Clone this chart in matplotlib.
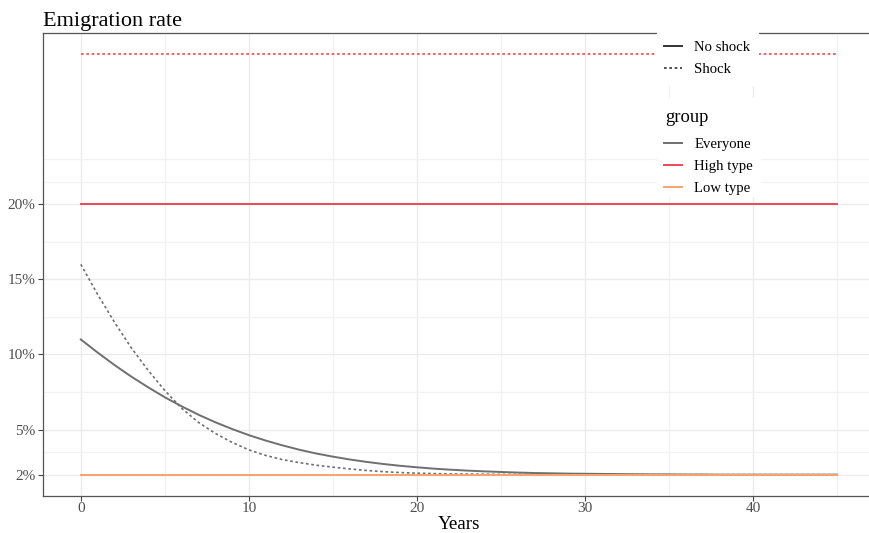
import numpy as np
import matplotlib
matplotlib.use('Agg')
import matplotlib.pyplot as plt
from matplotlib.lines import Line2D
from matplotlib.patches import Rectangle
from matplotlib.ticker import FuncFormatter

plt.rcParams['font.family'] = ['Liberation Serif', 'DejaVu Serif']

# taux d'emigration (%) par annee
years = np.arange(0, 46)
everyone_no_shock = [11.00, 10.13, 9.30, 8.53, 7.82, 7.15, 6.55, 5.99, 5.49, 5.04,
                     4.63, 4.27, 3.95, 3.66, 3.41, 3.20, 3.01, 2.85, 2.71, 2.59,
                     2.49, 2.40, 2.33, 2.27, 2.22, 2.18, 2.14, 2.11, 2.09, 2.07,
                     2.06, 2.05, 2.04, 2.03, 2.02, 2.02, 2.01, 2.01, 2.00, 2.00,
                     2.00, 2.00, 2.00, 2.00, 2.00, 2.00]
everyone_shock = [16.00, 14.00, 12.15, 10.45, 8.95, 7.60, 6.42, 5.48, 4.75, 4.15,
                  3.65, 3.28, 3.00, 2.80, 2.63, 2.50, 2.38, 2.28, 2.20, 2.14,
                  2.10, 2.07, 2.05, 2.04, 2.03, 2.02, 2.015, 2.01, 2.01, 2.005,
                  2.00, 2.00, 2.00, 2.00, 2.00, 2.00, 2.00, 2.00, 2.00, 2.00,
                  2.00, 2.00, 2.00, 2.00, 2.00, 2.00]
high_no_shock = 20.0
high_shock = 30.0
low_no_shock = 2.0
low_shock = 2.0

groups = ['Everyone', 'High type', 'Low type']
colors = {'Everyone': '#6f6f6f', 'High type': '#ee4658', 'Low type': '#f9a36b'}
shocks = ['No shock', 'Shock']
dotted = (0, (1.6, 1.6))

y_major = [2, 5, 10, 15, 20]
y_minor = [3.5, 7.5, 12.5, 17.5, 21.5, 23]
x_major = [0, 10, 20, 30, 40]
x_minor = [5, 15, 25, 35, 45]

W, H = 869, 533
fig = plt.figure(figsize=(W / 100, H / 100), dpi=100)
# le panneau deborde un peu a droite
left, right, top, bottom = 43, 875, 33, 495.7
ax = fig.add_axes([left / W, 1 - bottom / H, (right - left) / W, (bottom - top) / H])

n = len(years)
ax.plot(years, everyone_no_shock, color=colors['Everyone'], lw=1.4)
ax.plot(years, everyone_shock, color=colors['Everyone'], lw=1.2, ls=dotted)
ax.plot(years, np.full(n, high_no_shock), color=colors['High type'], lw=1.4)
ax.plot(years, np.full(n, high_shock), color=colors['High type'], lw=1.2, ls=dotted)
ax.plot(years, np.full(n, low_no_shock), color=colors['Low type'], lw=1.4)
ax.plot(years, np.full(n, low_shock), color=colors['Low type'], lw=1.2, ls=dotted)

ax.set_xlim(-2.25, 47.25)
ax.set_ylim(0.6, 31.4)
ax.set_xticks(x_major)
ax.set_xticks(x_minor, minor=True)
ax.set_yticks(y_major)
ax.set_yticks(y_minor, minor=True)
ax.yaxis.set_major_formatter(FuncFormatter(lambda v, p: '%d%%' % v))
ax.grid(True, which='major', color='#ebebeb', lw=1.0)
ax.grid(True, which='minor', color='#f2f2f2', lw=0.9)
ax.set_axisbelow(True)
ax.tick_params(which='major', length=3.3, width=0.8, color='#444444',
               labelsize=11, labelcolor='#4d4d4d', pad=2)
ax.tick_params(axis='x', which='major', pad=1.2)
ax.tick_params(which='minor', length=0)
for s in ax.spines.values():
    s.set_color('#555555')
    s.set_linewidth(0.9)

ax.set_xlabel('Years', fontsize=13.7, labelpad=1)
ax.set_title('Emigration rate', loc='left', fontsize=16, pad=5)

# fonds blancs des deux legendes
fig.add_artist(Rectangle((657 / W, 1 - 86 / H), 102 / W, 60 / H,
                         transform=fig.transFigure, facecolor='white',
                         edgecolor='none', zorder=1))
fig.add_artist(Rectangle((657 / W, 1 - 197 / H), 104 / W, 99 / H,
                         transform=fig.transFigure, facecolor='white',
                         edgecolor='none', zorder=1))

h1 = [Line2D([], [], color='#333333', lw=1.4),
      Line2D([], [], color='#333333', lw=1.2, ls=dotted)]
fig.legend(h1, shocks, loc='upper left', bbox_to_anchor=(664 / W, 1 - 41 / H),
           frameon=False, fontsize=10.6, borderpad=0, borderaxespad=0,
           handlelength=1.25, handletextpad=0.8, labelspacing=0.57)

fig.text(665 / W, 1 - 118 / H, 'group', fontsize=13.3, va='center', ha='left',
         zorder=3)
h2 = [Line2D([], [], color=colors[g], lw=1.4) for g in groups]
fig.legend(h2, groups, loc='upper left', bbox_to_anchor=(664 / W, 1 - 138 / H),
           frameon=False, fontsize=10.6, borderpad=0, borderaxespad=0,
           handlelength=1.25, handletextpad=0.8, labelspacing=0.57)

fig.savefig('out.png', dpi=100)
